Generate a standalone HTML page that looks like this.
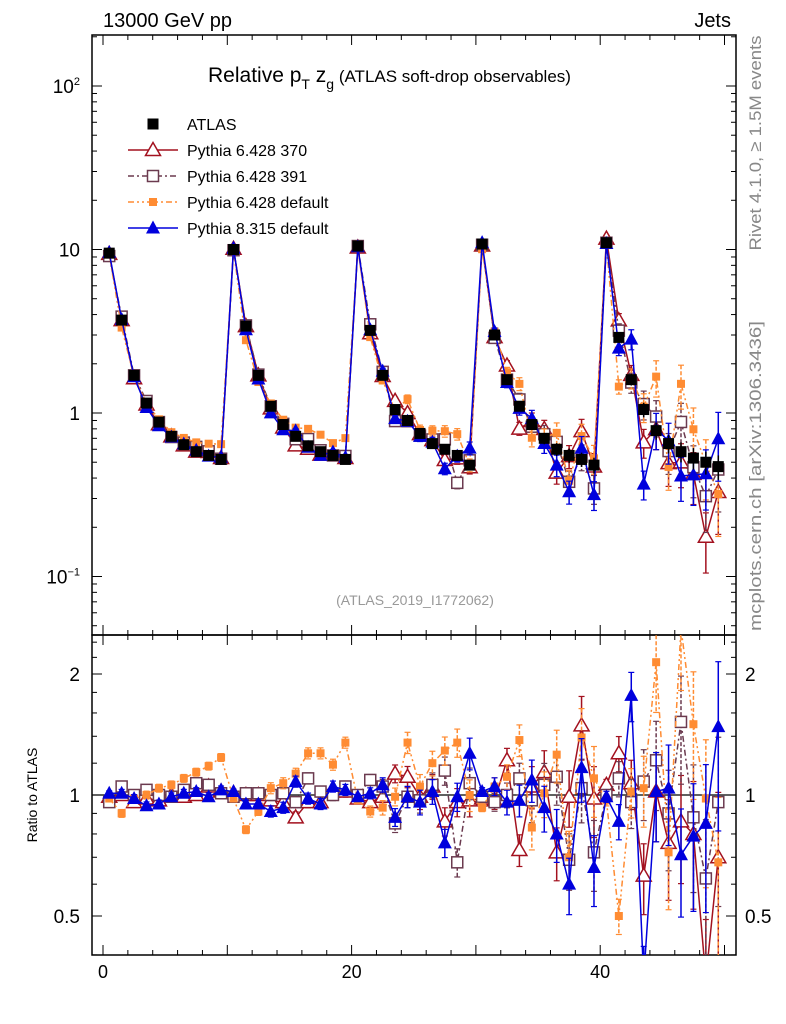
<!DOCTYPE html>
<html><head><meta charset="utf-8"><style>
body{margin:0;background:#fff}
svg{display:block;font-family:"Liberation Sans","DejaVu Sans",sans-serif}
</style></head><body>
<svg id="c" width="786" height="1024" viewBox="0 0 786 1024" xmlns="http://www.w3.org/2000/svg">
<defs>
<clipPath id="cm"><rect x="92" y="35" width="644" height="600"/></clipPath>
<clipPath id="cr"><rect x="92" y="635" width="644" height="320"/></clipPath>
</defs>
<text x="103" y="27" font-size="20">13000 GeV pp</text>
<text x="731" y="27" font-size="20" text-anchor="end">Jets</text>
<text x="208" y="82" font-size="21">Relative p<tspan font-size="14" dy="7">T</tspan><tspan dy="-7"> z</tspan><tspan font-size="14" dy="7">g</tspan><tspan dy="-7" font-size="17"> (ATLAS soft-drop observables)</tspan></text>
<text x="415" y="605" font-size="14" fill="#999" text-anchor="middle">(ATLAS_2019_I1772062)</text>
<text transform="translate(761,143) rotate(-90)" font-size="17" fill="#888" text-anchor="middle" textLength="215" lengthAdjust="spacingAndGlyphs">Rivet 4.1.0, ≥ 1.5M events</text>
<text transform="translate(761,476) rotate(-90)" font-size="17" fill="#888" text-anchor="middle" textLength="310" lengthAdjust="spacingAndGlyphs">mcplots.cern.ch [arXiv:1306.3436]</text>
<text transform="translate(37,795) rotate(-90)" font-size="14" text-anchor="middle">Ratio to ATLAS</text>
<g id="axes"></g>
<g id="mainplot" clip-path="url(#cm)"></g>
<g id="ratioplot" clip-path="url(#cr)"></g>
<g id="legend"></g>
</svg>
<script>
const atlas=[9.5,3.7,1.7,1.15,0.88,0.72,0.64,0.58,0.55,0.52,
10,3.4,1.7,1.1,0.85,0.72,0.63,0.58,0.55,0.52,
10.5,3.2,1.7,1.05,0.9,0.75,0.65,0.6,0.55,0.48,
10.8,3.0,1.6,1.1,0.85,0.7,0.6,0.55,0.52,0.48,
11,2.9,1.6,1.05,0.78,0.65,0.58,0.53,0.5,0.47];
const atlasErr=[0.02,0.03,0.03,0.03,0.03,0.03,0.03,0.03,0.03,0.03,
0.02,0.03,0.03,0.03,0.03,0.03,0.03,0.03,0.03,0.03,
0.02,0.03,0.03,0.04,0.04,0.04,0.05,0.05,0.05,0.06,
0.02,0.04,0.05,0.06,0.07,0.08,0.09,0.1,0.1,0.11,
0.03,0.06,0.08,0.1,0.12,0.13,0.14,0.15,0.16,0.17];
const ratioP370=[0.99,1.0,0.96,0.98,0.97,1.0,0.99,1.0,1.05,1.02,
1.01,1.0,1.0,0.97,0.96,0.88,0.96,0.96,1.02,1.02,
0.98,0.96,0.99,1.13,1.11,0.99,1.05,0.86,0.96,0.97,
0.98,0.97,1.22,0.73,1.05,1.14,0.72,0.99,1.49,0.98,
1.06,1.27,1.07,0.63,1.02,0.76,0.86,0.8,0.35,0.7];
const ratioP391=[0.96,1.05,1.0,1.03,1.0,0.99,1.03,1.07,1.06,1.01,
0.99,1.01,1.01,1.0,1.01,0.96,1.1,1.02,1.0,1.05,
1.0,1.09,1.05,0.85,0.99,0.97,1.06,1.15,0.68,1.07,
0.99,0.96,1.0,1.1,0.97,1.06,1.11,0.69,1.04,0.72,
1.0,1.1,0.96,1.08,1.22,0.9,1.52,0.88,0.62,0.96];
const ratioP6def=[0.98,0.9,0.98,1.0,1.04,1.06,1.1,1.14,1.18,1.24,
0.98,0.82,0.91,1.04,1.07,1.13,1.27,1.27,1.19,1.35,
0.97,0.91,0.93,0.99,1.35,1.05,1.2,1.29,1.35,1.0,
0.93,1.05,1.11,1.37,0.83,1.01,1.26,0.7,1.39,1.1,
0.97,0.5,1.02,1.04,2.14,0.72,2.6,1.5,0.98,0.68];
const ratioP8=[1.01,1.01,0.98,0.94,0.95,0.99,1.01,1.02,0.99,1.03,
1.02,0.95,0.95,0.91,0.93,1.08,0.98,0.95,1.05,1.03,
0.99,1.01,1.06,0.88,0.99,0.96,1.02,0.76,0.99,1.27,
1.02,1.05,0.96,0.97,1.09,0.93,0.8,0.6,1.17,0.66,
0.99,0.86,1.77,0.35,1.02,1.04,0.71,0.79,0.85,1.48];
const mcErr=[0.01,0.02,0.02,0.02,0.02,0.02,0.02,0.02,0.02,0.02,
0.01,0.02,0.02,0.03,0.03,0.03,0.03,0.03,0.03,0.03,
0.01,0.03,0.04,0.05,0.06,0.07,0.07,0.08,0.08,0.09,
0.02,0.05,0.07,0.09,0.12,0.13,0.15,0.16,0.18,0.2,
0.03,0.1,0.14,0.2,0.25,0.28,0.3,0.35,0.4,0.45];
const xTicks=[0,20,40];
const mainTicks=[0.1,1,10,100];
const mainTickLabels=["10<tspan font-size='11' dy='-8'>−1</tspan>","1","10","10<tspan font-size='11' dy='-8'>2</tspan>"];
const ratioTicks=[0.5,1,2];
const ratioTickLabels=["0.5","1","2"];

const NS="http://www.w3.org/2000/svg";
const L=92,R=736,T=35,M=635,B=955;
const X=v=>103+12.43*v;
const YM=v=>413-163.5*Math.log10(v);
const YR=v=>795-121*Math.log2(v);
function el(tag,attrs,parent){const e=document.createElementNS(NS,tag);for(const k in attrs)e.setAttribute(k,attrs[k]);parent.appendChild(e);return e;}
const axes=document.getElementById('axes');
let f1=el('rect',{x:L,y:T,width:R-L,height:M-T,fill:'none',stroke:'#000','stroke-width':1.5},axes);


let f2=el('rect',{x:L,y:M,width:R-L,height:B-M,fill:'none',stroke:'#000','stroke-width':1.5},axes);


let one=el('line',{x1:L,x2:R,y1:YR(1),y2:YR(1),stroke:'#000','stroke-width':1.2},axes);


for(let v=0;v<=50;v+=2){
 const maj=v%10===0, len=maj?10:5, x=X(v);
 el('line',{x1:x,x2:x,y1:B,y2:B-len,stroke:'#000'},axes);
 el('line',{x1:x,x2:x,y1:M,y2:M-len,stroke:'#000'},axes);
 el('line',{x1:x,x2:x,y1:M,y2:M+len,stroke:'#000'},axes);
 el('line',{x1:x,x2:x,y1:T,y2:T+len,stroke:'#000'},axes);
}
xTicks.forEach(v=>{const t=el('text',{x:X(v),y:978,'font-size':18,'text-anchor':'middle'},axes);t.textContent=v;

});
for(let d=-2;d<=2;d++)for(let m=1;m<10;m++){const v=m*Math.pow(10,d);const y=YM(v);if(y<T||y>M)continue;const len=m===1?10:5;
 el('line',{x1:L,x2:L+len,y1:y,y2:y,stroke:'#000'},axes);el('line',{x1:R,x2:R-len,y1:y,y2:y,stroke:'#000'},axes);}
mainTicks.forEach((v,i)=>{const t=el('text',{x:80,y:YM(v)+7,'font-size':19,'text-anchor':'end'},axes);t.innerHTML=mainTickLabels[i];

});
[0.4,0.5,0.6,0.7,0.8,0.9,1,1.2,1.4,1.6,1.8,2,2.2,2.4].forEach(v=>{const y=YR(v);if(y<M||y>B)return;const len=(v===0.5||v===1||v===2)?10:5;
 el('line',{x1:L,x2:L+len,y1:y,y2:y,stroke:'#000'},axes);el('line',{x1:R,x2:R-len,y1:y,y2:y,stroke:'#000'},axes);});
ratioTicks.forEach((v,i)=>{
 const t=el('text',{x:80,y:YR(v)+7,'font-size':19,'text-anchor':'end'},axes);t.textContent=ratioTickLabels[i];
 
 
 const t2=el('text',{x:745,y:YR(v)+7,'font-size':19},axes);t2.textContent=ratioTickLabels[i];
 
 });

function marker(g,type,x,y,c){
 if(type==='bsq')return el('rect',{x:x-5.5,y:y-5.5,width:11,height:11,fill:c},g);
 if(type==='osq')return el('rect',{x:x-5.5,y:y-5.5,width:11,height:11,fill:'#fff',stroke:c,'stroke-width':1.5},g);
 if(type==='fsq')return el('rect',{x:x-4,y:y-4,width:8,height:8,fill:c},g);
 if(type==='otri')return el('path',{d:`M${x},${y-7.5}L${x+7.5},${y+5.5}L${x-7.5},${y+5.5}Z`,fill:'#fff',stroke:c,'stroke-width':1.5},g);
 return el('path',{d:`M${x},${y-7.5}L${x+7},${y+5.5}L${x-7},${y+5.5}Z`,fill:c},g);
}
const series=[
 {name:'pythia6-370',ratio:ratioP370,color:'#a3111f',dash:'',m:'otri',label:'Pythia 6.428 370'},
 {name:'pythia6-391',ratio:ratioP391,color:'#6b3a4f',dash:'6,3,2,3',m:'osq',label:'Pythia 6.428 391'},
 {name:'pythia6-default',ratio:ratioP6def,color:'#ff8c33',dash:'6,3,2,3,2,3',m:'fsq',label:'Pythia 6.428 default'},
 {name:'pythia8-default',ratio:ratioP8,color:'#0000dd',dash:'',m:'ftri',label:'Pythia 8.315 default'}
];
const mainG=document.getElementById('mainplot'), ratG=document.getElementById('ratioplot');
function drawSeries(parent,vals,errs,Yf,s){
 const g=el('g',{},parent);
 
 
 const pts=vals.map((v,i)=>[X(i+0.5),Yf(Math.max(v,0.01))]);
 const p=el('polyline',{points:pts.map(q=>q.join(',')).join(' '),fill:'none',stroke:s.color,'stroke-width':1.5},g);
 if(s.dash)p.setAttribute('stroke-dasharray',s.dash);
 vals.forEach((v,i)=>{const e=errs[i]*v;const y1=Yf(Math.max(v+e,0.01)),y2=Yf(Math.max(v-e,0.01));const x=X(i+0.5);
  const eb=el('line',{x1:x,x2:x,y1:y1,y2:y2,stroke:s.color,'stroke-width':1.5},g);if(s.dash)eb.setAttribute('stroke-dasharray','4,2');
  el('line',{x1:x-3,x2:x+3,y1:y1,y2:y1,stroke:s.color,'stroke-width':1.2},g);
  el('line',{x1:x-3,x2:x+3,y1:y2,y2:y2,stroke:s.color,'stroke-width':1.2},g);});
 vals.forEach((v,i)=>{const mk=marker(g,s.m,pts[i][0],pts[i][1],s.color);
  
  });
}
series.forEach(s=>{
 const vals=atlas.map((a,i)=>a*s.ratio[i]);
 const errs=mcErr.map((e,i)=>Math.sqrt(e*e+0.0001));
 drawSeries(mainG,vals,errs,YM,s);
 drawSeries(ratG,s.ratio,errs,YR,s);
});
const ag=el('g',{},mainG);


atlas.forEach((v,i)=>{const x=X(i+0.5);el('line',{x1:x,x2:x,y1:YM(v*(1+atlasErr[i])),y2:YM(v*(1-atlasErr[i])),stroke:'#000','stroke-width':1.5},ag);
 const mk=marker(ag,'bsq',x,YM(v),'#000');
 
 });
const lg=document.getElementById('legend');


const le0=el('g',{},lg);


marker(le0,'bsq',153,124,'#000');
const t0=el('text',{x:187,y:130,'font-size':16},le0);t0.textContent='ATLAS';
series.forEach((s,k)=>{const y=150+26*k;const g=el('g',{},lg);
 
 
 const ln=el('line',{x1:128,x2:178,y1:y,y2:y,stroke:s.color,'stroke-width':1.5},g);if(s.dash)ln.setAttribute('stroke-dasharray',s.dash);
 marker(g,s.m,153,y,s.color);
 const t=el('text',{x:187,y:y+6,'font-size':16},g);t.textContent=s.label;});
</script>
</body></html>
